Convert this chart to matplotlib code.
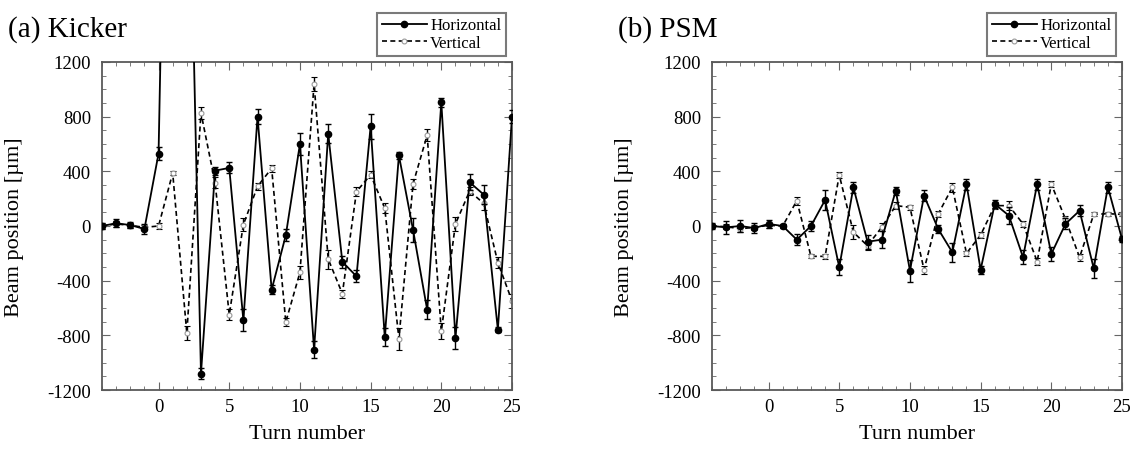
import numpy as np
import matplotlib.pyplot as plt
from matplotlib.ticker import MultipleLocator
from matplotlib.lines import Line2D

plt.rcParams['font.family'] = ['Liberation Serif', 'DejaVu Serif']
plt.rcParams['axes.unicode_minus'] = False

turns = list(range(-4, 26))

# (a) Kicker
kick_h = [0, 20, 7, -22, 530, 5750, 3570, -1080, 405, 425, -690, 800, -466, -68,
          600, -905, 675, -262, -368, 730, -813, 517, -28, -613, 905, -818, 320, 230, -758, 800]
kick_h_err = [25, 30, 20, 35, 45, 40, 40, 40, 30, 40, 80, 55, 35, 45,
              80, 60, 70, 45, 45, 90, 65, 25, 90, 70, 35, 80, 60, 70, 20, 50]
kick_v = [0, 15, 5, -10, 0, 388, -785, 828, 315, -648, 10, 290, 422, -703,
          -340, 1038, -242, -495, 252, 375, 130, -825, 308, 665, -770, 15, 255, 165, -268, -548]
kick_v_err = [20, 20, 20, 20, 20, 15, 50, 45, 40, 40, 50, 25, 25, 30,
              50, 50, 70, 30, 30, 25, 35, 80, 35, 45, 60, 50, 30, 45, 40, 50]

# (b) PSM
psm_h = [0, -10, 0, -15, 15, 0, -100, 0, 190, -302, 283, -115, -100, 259,
         -327, 222, -22, -193, 307, -320, 161, 76, -229, 307, -205, 15, 112, -310, 285, -95]
psm_h_err = [20, 50, 45, 35, 30, 15, 40, 40, 70, 60, 40, 50, 60, 30,
             80, 40, 30, 70, 40, 30, 30, 60, 50, 40, 50, 40, 40, 70, 40, 20]
psm_v = [0, -5, -20, -10, 5, 0, 185, -222, -222, 373, -46, -144, -10, 149,
         137, -320, 88, 283, -200, -66, 149, 149, 15, -260, 307, 51, -229, 85, 90, 85]
psm_v_err = [15, 20, 25, 20, 20, 15, 30, 15, 20, 25, 50, 30, 30, 25,
             20, 30, 20, 35, 20, 20, 25, 35, 20, 25, 25, 20, 25, 15, 15, 15]

panels = [
    ('(a) Kicker', kick_h, kick_h_err, kick_v, kick_v_err),
    ('(b) PSM', psm_h, psm_h_err, psm_v, psm_v_err),
]

fig = plt.figure(figsize=(11.35, 4.52), dpi=100)
lefts = [102 / 1135, 712 / 1135]
title_x = [8 / 1135, 618 / 1135]

h_style = dict(color='black', ls='-', lw=1.3, marker='o', ms=4.5, mfc='black', mec='black')
v_style = dict(color='black', ls=(0, (3, 2)), lw=1.2, marker='o', ms=3.5,
               mfc='white', mec='0.6', mew=0.8)

for i, (title, h, he, v, ve) in enumerate(panels):
    ax = fig.add_axes([lefts[i], 61 / 452, 410 / 1135, 328 / 452])
    ax.errorbar(turns, v, yerr=ve, ecolor='black', elinewidth=1.0, capsize=2.5,
                capthick=1.0, zorder=2, **v_style)
    ax.errorbar(turns, h, yerr=he, ecolor='black', elinewidth=1.0, capsize=2.5,
                capthick=1.0, zorder=3, **h_style)
    ax.set_xlim(-4, 25)
    ax.set_ylim(-1200, 1200)
    ax.set_yticks([-1200, -800, -400, 0, 400, 800, 1200])
    ax.set_xticks([0, 5, 10, 15, 20, 25])
    ax.xaxis.set_minor_locator(MultipleLocator(1))
    ax.yaxis.set_minor_locator(MultipleLocator(100))
    ax.tick_params(which='both', direction='in', top=True, right=True,
                   color='0.4', labelsize=13.5)
    ax.tick_params(which='major', length=6, width=0.8)
    ax.tick_params(which='minor', length=3, width=0.6)
    ax.tick_params(axis='x', pad=6)
    ax.tick_params(axis='y', pad=8)
    for s in ax.spines.values():
        s.set_color('0.35')
        s.set_linewidth(1.3)
    ax.set_xlabel('Turn number', fontsize=16)
    ax.xaxis.set_label_coords(0.5, -0.105)
    ax.set_ylabel('Beam position [µm]', fontsize=16)
    ax.yaxis.set_label_coords(-0.19, 0.5)

    handles = [Line2D([], [], **h_style), Line2D([], [], **v_style)]
    leg = ax.legend(handles, ['Horizontal', 'Vertical'], loc='lower right',
                    bbox_to_anchor=(1.0, 1.0), fontsize=12, frameon=True,
                    fancybox=False, handlelength=2.7, borderaxespad=0.35,
                    borderpad=0.3, labelspacing=0.1, handletextpad=0.2)
    leg.get_frame().set_edgecolor('0.35')
    leg.get_frame().set_linewidth(1.5)

    fig.text(title_x[i], 0.935, title, fontsize=21, va='center', ha='left')

plt.savefig('out.png', dpi=100)
plt.close()
